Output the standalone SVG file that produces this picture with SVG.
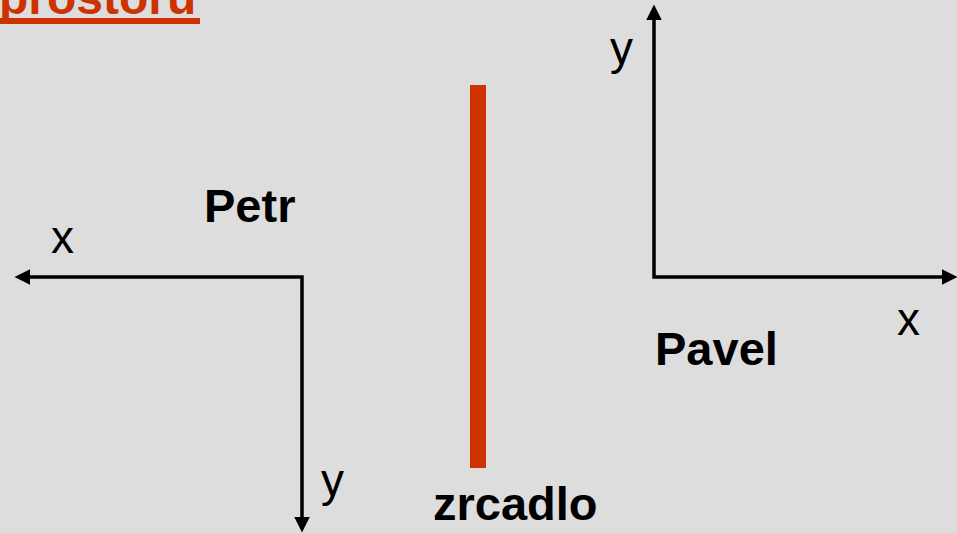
<svg xmlns="http://www.w3.org/2000/svg" width="957" height="533" viewBox="0 0 957 533">
<style>
.bold{font-family:"Liberation Sans",Arial,sans-serif;font-weight:bold;font-size:47px;fill:#000}
.reg{font-family:"Liberation Sans",Arial,sans-serif;font-size:46px;fill:#000}
.axis{fill:none;stroke:#000;stroke-width:3.5;stroke-linejoin:miter}
</style>
<defs>
<marker id="arr" markerUnits="userSpaceOnUse" markerWidth="16" markerHeight="16" viewBox="0 0 15 15" refX="7" refY="7.5" orient="auto-start-reverse">
<path d="M0,0 L15,7.5 L0,15 z" fill="#000"/>
</marker>
</defs>
<rect width="957" height="533" fill="#DDDDDD"/>
<g id="title">
<text x="-1" y="14" style="font-family:'Liberation Sans',Arial,sans-serif;font-weight:bold;font-size:48px;fill:#CC3300">prostoru</text>
<rect x="0" y="18" width="200" height="6" fill="#CC3300"/>
</g>
<g id="mirror">
<rect x="470" y="85" width="16" height="383" fill="#CC3300"/>
</g>
<g id="connectors">
<polyline class="axis" points="23,277 302,277 302,524" marker-start="url(#arr)" marker-end="url(#arr)"/>
<polyline class="axis" points="654,13 654,277 949,277" marker-start="url(#arr)" marker-end="url(#arr)"/>
</g>
<g id="petr">
<text class="bold" x="204" y="221.5">Petr</text>
</g>
<g id="petr-x"><text class="reg" x="51" y="252.5">x</text></g>
<g id="petr-y"><text class="reg" x="321" y="496">y</text></g>
<g id="pavel">
<text class="bold" x="655" y="365">Pavel</text>
</g>
<g id="pavel-x"><text class="reg" x="897" y="335">x</text></g>
<g id="pavel-y"><text class="reg" x="610" y="64">y</text></g>
<g id="zrcadlo">
<text class="bold" x="433" y="520">zrcadlo</text>
</g>
</svg>
